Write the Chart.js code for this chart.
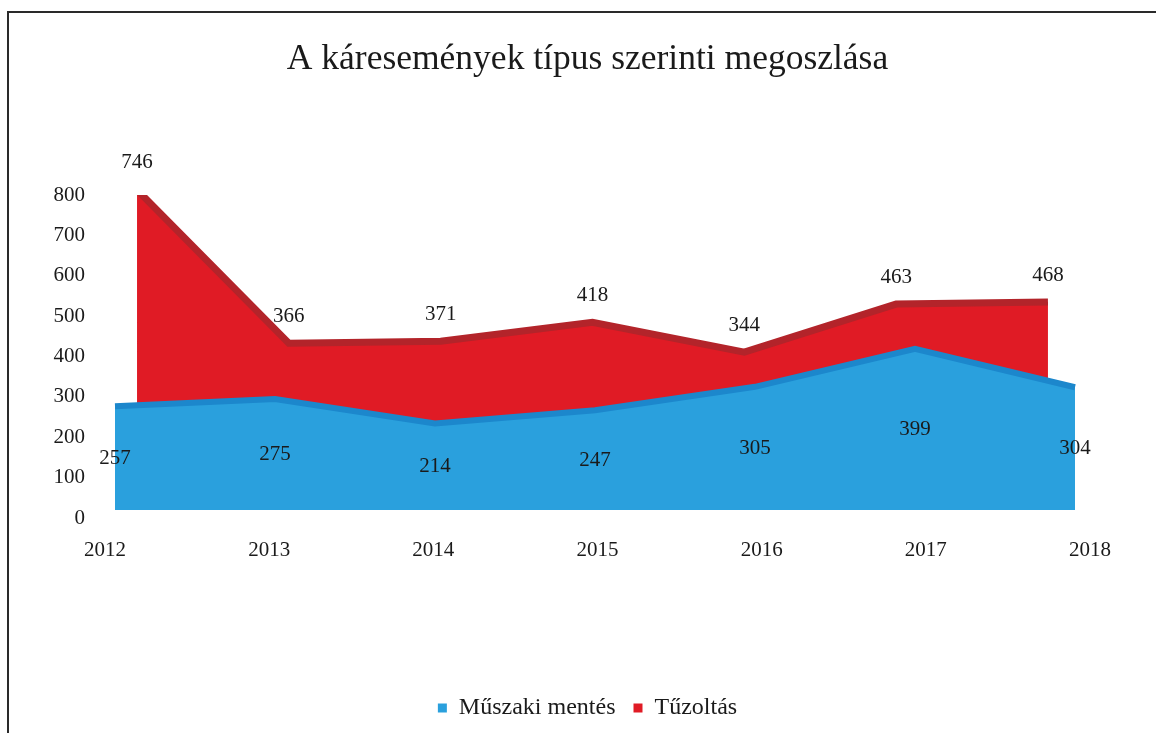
<!DOCTYPE html>
<html>
<head>
<meta charset="utf-8">
<script src="https://cdn.jsdelivr.net/npm/chart.js@4.4.1/dist/chart.umd.min.js"></script>
<style>
  html, body { margin: 0; padding: 0; background: #fff; }
  #wrap { position: relative; width: 1156px; height: 733px; overflow: hidden; }
  #frame { position: absolute; left: 7px; top: 11px; width: 1200px; height: 800px;
           border-top: 2px solid #2a2a2a; border-left: 2px solid #2a2a2a; pointer-events: none; }
  canvas { position: absolute; left: 0; top: 0; }
</style>
</head>
<body>
<div id="wrap">
  <canvas id="c" width="1156" height="733"></canvas>
  <div id="frame"></div>
</div>
<script>
const years = ['2012', '2013', '2014', '2015', '2016', '2017', '2018'];
const muszakiMentes = [257, 275, 214, 247, 305, 399, 304];
const tuzoltas = [746, 366, 371, 418, 344, 463, 468];
const yTicks = [0, 100, 200, 300, 400, 500, 600, 700, 800];

const FONT = "'Liberation Serif', 'Times New Roman', serif";
const BLUE = '#2aa0dd';
const BLUE_TOP = '#1c87cc';
const RED = '#e01b25';
const RED_TOP = '#b3242a';

const toPoints = vals => years.map((y, i) => ({ x: Number(y), y: vals[i] }));

const labelPlugin = {
  id: 'valueLabels',
  afterDatasetsDraw(chart) {
    const ctx = chart.ctx;
    ctx.save();
    ctx.font = '21px ' + FONT;
    ctx.fillStyle = '#1a1a1a';
    ctx.textAlign = 'center';
    ctx.textBaseline = 'middle';
    const xb = chart.scales.xb, yb = chart.scales.yb;
    const xr = chart.scales.xr, yr = chart.scales.yr;
    years.forEach((yr0, i) => {
      const yNum = Number(yr0);
      ctx.fillText(String(muszakiMentes[i]), xb.getPixelForValue(yNum), yb.getPixelForValue(muszakiMentes[i] / 2));
      ctx.fillText(String(tuzoltas[i]), xr.getPixelForValue(yNum), yr.getPixelForValue(tuzoltas[i]) - 27);
    });
    ctx.restore();
  }
};

new Chart(document.getElementById('c'), {
  type: 'line',
  data: {
    datasets: [
      {
        label: 'Műszaki mentés',
        data: toPoints(muszakiMentes),
        xAxisID: 'xb', yAxisID: 'yb',
        backgroundColor: BLUE,
        borderColor: BLUE_TOP,
        borderWidth: 6,
        fill: 'origin',
        tension: 0,
        pointRadius: 0
      },
      {
        label: 'Tűzoltás',
        data: toPoints(tuzoltas),
        xAxisID: 'xr', yAxisID: 'yr',
        backgroundColor: RED,
        borderColor: RED_TOP,
        borderWidth: 7,
        fill: 'origin',
        tension: 0,
        pointRadius: 0
      }
    ]
  },
  options: {
    responsive: false,
    animation: false,
    layout: { padding: { left: 45, right: 26, top: 0, bottom: 3 } },
    scales: {
      x: {
        type: 'category',
        labels: years,
        offset: false,
        grid: { display: false, drawTicks: false },
        border: { display: false },
        ticks: { color: '#1a1a1a', font: { family: FONT, size: 21 }, padding: 20, maxRotation: 0, autoSkip: false },
        afterFit(scale) { scale.height = 160; }
      },
      y: {
        type: 'linear',
        position: 'left',
        min: 0, max: 800,
        afterBuildTicks(scale) { scale.ticks = yTicks.map(v => ({ value: v })); },
        grid: { display: false, drawTicks: false },
        border: { display: false },
        ticks: { color: '#1a1a1a', font: { family: FONT, size: 21 }, padding: 20 },
        afterFit(scale) { scale.width = 60; }
      },
      ySpacer: {
        type: 'linear',
        position: 'right',
        grid: { display: false, drawTicks: false },
        border: { display: false },
        ticks: { display: false },
        afterFit(scale) { scale.width = 40; }
      },
      xb: { type: 'linear', display: false, min: 2011.9375, max: 2018.09375 },
      yb: { type: 'linear', display: false, min: -20, max: 780 },
      xr: { type: 'linear', display: false, min: 2011.789, max: 2018.277 },
      yr: { type: 'linear', display: false, min: -67, max: 733 }
    },
    plugins: {
      title: {
        display: true,
        text: 'A káresemények típus szerinti megoszlása',
        color: '#1a1a1a',
        font: { family: FONT, size: 35.5, weight: 'normal' },
        padding: { top: 38, bottom: 114.5 }
      },
      legend: {
        position: 'bottom',
        labels: {
          color: '#1a1a1a',
          font: { family: FONT, size: 24 },
          boxWidth: 9, boxHeight: 9,
          padding: 18,
          generateLabels(chart) {
            return chart.data.datasets.map((ds, i) => ({
              text: ds.label, fillStyle: ds.backgroundColor, strokeStyle: ds.backgroundColor,
              lineWidth: 0, hidden: false, datasetIndex: i, fontColor: '#1a1a1a'
            }));
          }
        }
      },
      tooltip: { enabled: false }
    }
  },
  plugins: [labelPlugin]
});
</script>
</body>
</html>
